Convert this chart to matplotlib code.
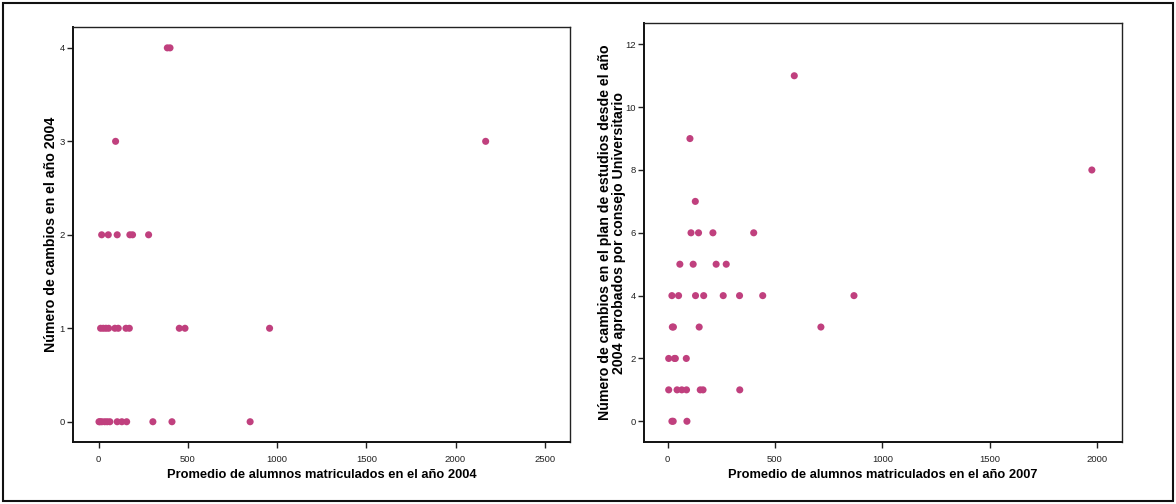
import matplotlib
matplotlib.use("Agg")
import matplotlib.pyplot as plt
from matplotlib.patches import Rectangle

plt.rcParams['font.family'] = ['Liberation Sans', 'DejaVu Sans']

# Left chart: average enrolled 2004 vs changes in 2004
x2004 = [385, 400,
         95, 2169,
         17, 54, 104, 175, 190, 280,
         11, 26, 41, 56, 91, 110, 153, 172, 452, 484, 958,
         2, 8, 18, 34, 48, 63, 104, 130, 157, 304, 411, 849]
y2004 = [4, 4,
         3, 3,
         2, 2, 2, 2, 2, 2,
         1, 1, 1, 1, 1, 1, 1, 1, 1, 1, 1,
         0, 0, 0, 0, 0, 0, 0, 0, 0, 0, 0, 0]

# Right chart: average enrolled 2007 vs changes since 2004
x2007 = [590, 104, 1976, 129,
         109, 144, 211, 401,
         57, 119, 226, 273,
         20, 51, 130, 168, 259, 335, 443, 868,
         22, 27, 147, 714,
         5, 32, 36, 87,
         5, 44, 66, 88, 152, 165, 336,
         20, 26, 90]
y2007 = [11, 9, 8, 7,
         6, 6, 6, 6,
         5, 5, 5, 5,
         4, 4, 4, 4, 4, 4, 4, 4,
         3, 3, 3, 3,
         2, 2, 2, 2,
         1, 1, 1, 1, 1, 1, 1,
         0, 0, 0]

xticks_left = [0, 500, 1000, 1500, 2000, 2500]
yticks_left = [0, 1, 2, 3, 4]
xticks_right = [0, 500, 1000, 1500, 2000]
yticks_right = [0, 2, 4, 6, 8, 10, 12]

color = '#C0407E'

fig = plt.figure(figsize=(11.76, 5.04), dpi=100)
W, H = 1176, 504

def add_ax(l, t, r, b):
    return fig.add_axes([l / W, 1 - b / H, (r - l) / W, (b - t) / H])

ax1 = add_ax(73.3, 27.3, 569.7, 442.3)
ax2 = add_ax(644, 23.3, 1121.7, 442)

def style(ax):
    for s in ['top', 'right']:
        ax.spines[s].set_linewidth(1.0)
        ax.spines[s].set_color('#222222')
    for s in ['left', 'bottom']:
        ax.spines[s].set_linewidth(1.4)
        ax.spines[s].set_color('#111111')
    ax.tick_params(axis='both', direction='out', length=4, width=1,
                   labelsize=6.8, colors='#222222', pad=2)
    ax.tick_params(axis='x', pad=5)

ax1.scatter(x2004, y2004, s=26, color=color, edgecolors='none', zorder=3)
ax1.set_xlim(-142, 2640)
ax1.set_ylim(-0.22, 4.22)
ax1.set_xticks(xticks_left)
ax1.set_yticks(yticks_left)
ax1.set_xlabel('Promedio de alumnos matriculados en el año 2004',
               fontsize=9.3, fontweight='bold', labelpad=4)
ax1.set_ylabel('Número de cambios en el año 2004',
               fontsize=10.2, fontweight='bold', labelpad=1.5)
style(ax1)

ax2.scatter(x2007, y2007, s=26, color=color, edgecolors='none', zorder=3)
ax2.set_xlim(-110, 2115)
ax2.set_ylim(-0.66, 12.67)
ax2.set_xticks(xticks_right)
ax2.set_yticks(yticks_right)
ax2.set_xlabel('Promedio de alumnos matriculados en el año 2007',
               fontsize=9.3, fontweight='bold', labelpad=4)
ax2.set_ylabel('Número de cambios en el plan de estudios desde el año\n'
               '2004 aprobados por consejo Universitario',
               fontsize=10.2, fontweight='bold', labelpad=-0.5, linespacing=0.98)
style(ax2)

fig.patches.append(Rectangle((3 / W, 3 / H), (W - 6) / W, (H - 6) / H,
                             transform=fig.transFigure, fill=False,
                             edgecolor='#111111', linewidth=1.5))

fig.savefig('out.png', dpi=100)
